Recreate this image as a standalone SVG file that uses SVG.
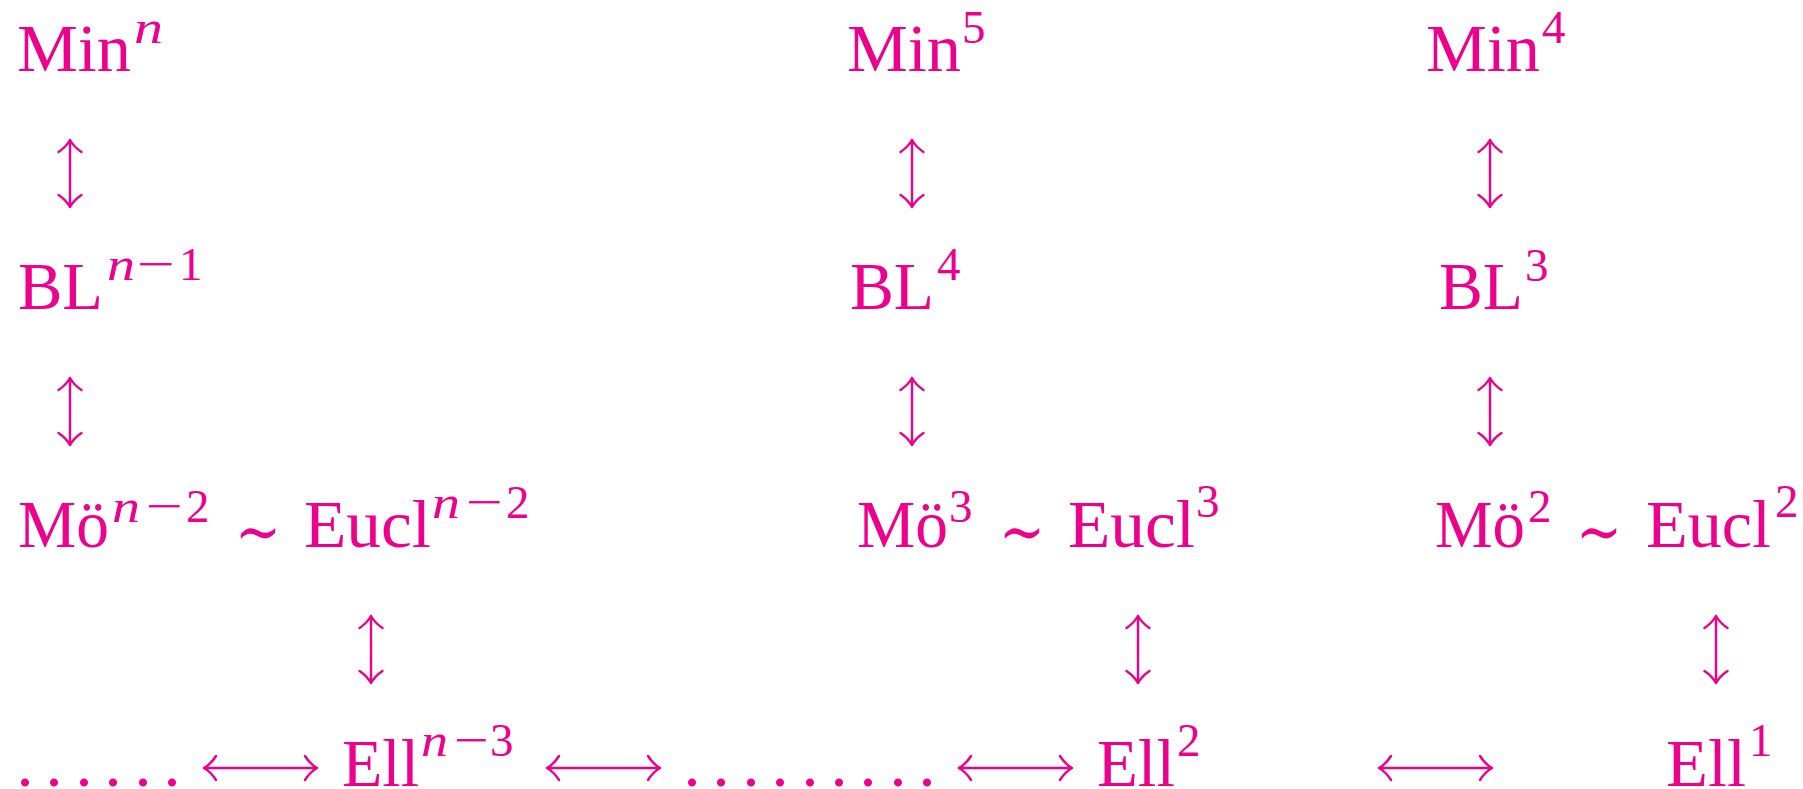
<svg xmlns="http://www.w3.org/2000/svg" width="1803" height="789" viewBox="0 0 1803 789">
<style>
text{fill:#EC008C;font-family:"Liberation Serif","DejaVu Serif",serif}
.rm{font-size:68px}
.sup{font-size:47px}
.it{font-style:italic}
.sim{font-family:"DejaVu Serif","Liberation Serif",serif;font-size:66px}
.ar{fill:none;stroke:#EC008C;stroke-width:2.4;stroke-linecap:round;stroke-linejoin:round}
</style>
<defs>
<path id="vArrow" class="ar" d="M0 0V67M-11.5 12Q-4 7 0 0Q4 7 11.5 12M-11.5 55Q-4 60 0 67Q4 60 11.5 55"/>
<path id="hArrow" class="ar" d="M0 0H113M12 -12Q7 -4 0 0Q7 4 12 12M101 -12Q106 -4 113 0Q106 4 101 12"/>
</defs>
<rect width="1803" height="789" fill="#fff"/>

<g id="min-n">
<text class="rm" x="17" y="71" textLength="114" lengthAdjust="spacingAndGlyphs">Min</text>
<text class="sup it" x="134" y="43" textLength="29" lengthAdjust="spacingAndGlyphs">n</text>
</g>
<g id="min-5">
<text class="rm" x="847" y="71" textLength="114" lengthAdjust="spacingAndGlyphs">Min</text>
<text class="sup" x="962" y="43">5</text>
</g>
<g id="min-4">
<text class="rm" x="1426" y="71" textLength="114" lengthAdjust="spacingAndGlyphs">Min</text>
<text class="sup" x="1542" y="43">4</text>
</g>

<g id="bl-n-1">
<text class="rm" x="18" y="309" textLength="85" lengthAdjust="spacingAndGlyphs">BL</text>
<text class="sup it" x="107" y="280" textLength="28" lengthAdjust="spacingAndGlyphs">n</text>
<text class="sup" x="137" y="280" textLength="38" lengthAdjust="spacingAndGlyphs">−</text>
<text class="sup" x="179" y="280">1</text>
</g>
<g id="bl-4">
<text class="rm" x="850" y="309" textLength="84" lengthAdjust="spacingAndGlyphs">BL</text>
<text class="sup" x="937" y="280">4</text>
</g>
<g id="bl-3">
<text class="rm" x="1439" y="309" textLength="84" lengthAdjust="spacingAndGlyphs">BL</text>
<text class="sup" x="1525" y="281">3</text>
</g>

<g id="mo-eucl-n-2">
<text class="rm" x="18" y="547" textLength="91" lengthAdjust="spacingAndGlyphs">Mö</text>
<text class="sup it" x="112" y="522" textLength="28" lengthAdjust="spacingAndGlyphs">n</text>
<text class="sup" x="146" y="522" textLength="37" lengthAdjust="spacingAndGlyphs">−</text>
<text class="sup" x="186" y="522">2</text>
<text class="sim" x="235" y="554" textLength="46" lengthAdjust="spacingAndGlyphs">∼</text>
<text class="rm" x="304" y="547" textLength="127" lengthAdjust="spacingAndGlyphs">Eucl</text>
<text class="sup it" x="432" y="518" textLength="28" lengthAdjust="spacingAndGlyphs">n</text>
<text class="sup" x="466" y="518" textLength="37" lengthAdjust="spacingAndGlyphs">−</text>
<text class="sup" x="506" y="518">2</text>
</g>
<g id="mo-eucl-3">
<text class="rm" x="857" y="547" textLength="91" lengthAdjust="spacingAndGlyphs">Mö</text>
<text class="sup" x="949" y="522">3</text>
<text class="sim" x="999" y="554" textLength="46" lengthAdjust="spacingAndGlyphs">∼</text>
<text class="rm" x="1068" y="547" textLength="127" lengthAdjust="spacingAndGlyphs">Eucl</text>
<text class="sup" x="1196" y="517">3</text>
</g>
<g id="mo-eucl-2">
<text class="rm" x="1435" y="547" textLength="90" lengthAdjust="spacingAndGlyphs">Mö</text>
<text class="sup" x="1528" y="522">2</text>
<text class="sim" x="1576" y="554" textLength="46" lengthAdjust="spacingAndGlyphs">∼</text>
<text class="rm" x="1646" y="547" textLength="125" lengthAdjust="spacingAndGlyphs">Eucl</text>
<text class="sup" x="1775" y="517">2</text>
</g>

<g id="dots-left">
<text class="rm" x="16.5 45.5 75.5 104.5 134.5 163.5" y="786">......</text>
</g>
<g id="ell-n-3">
<text class="rm" x="342" y="786" textLength="77" lengthAdjust="spacingAndGlyphs">Ell</text>
<text class="sup it" x="421" y="756" textLength="27" lengthAdjust="spacingAndGlyphs">n</text>
<text class="sup" x="454" y="756" textLength="35" lengthAdjust="spacingAndGlyphs">−</text>
<text class="sup" x="490" y="756">3</text>
</g>
<g id="dots-mid">
<text class="rm" x="683.5 712.5 742.5 771.5 801.5 830.5 859.5 889.5 918.5" y="786">.........</text>
</g>
<g id="ell-2">
<text class="rm" x="1097" y="786" textLength="78" lengthAdjust="spacingAndGlyphs">Ell</text>
<text class="sup" x="1177" y="756">2</text>
</g>
<g id="ell-1">
<text class="rm" x="1666" y="786" textLength="80" lengthAdjust="spacingAndGlyphs">Ell</text>
<text class="sup" x="1749" y="756">1</text>
</g>

<g id="connectors">
<use href="#vArrow" x="70" y="140"/>
<use href="#vArrow" x="912" y="140"/>
<use href="#vArrow" x="1490" y="140"/>
<use href="#vArrow" x="70" y="378"/>
<use href="#vArrow" x="912" y="378"/>
<use href="#vArrow" x="1490" y="378"/>
<use href="#vArrow" x="371" y="616"/>
<use href="#vArrow" x="1138" y="616"/>
<use href="#vArrow" x="1716" y="616"/>
<use href="#hArrow" x="204" y="768"/>
<use href="#hArrow" x="547" y="768"/>
<use href="#hArrow" x="959" y="768"/>
<use href="#hArrow" x="1379" y="768"/>
</g>
</svg>
